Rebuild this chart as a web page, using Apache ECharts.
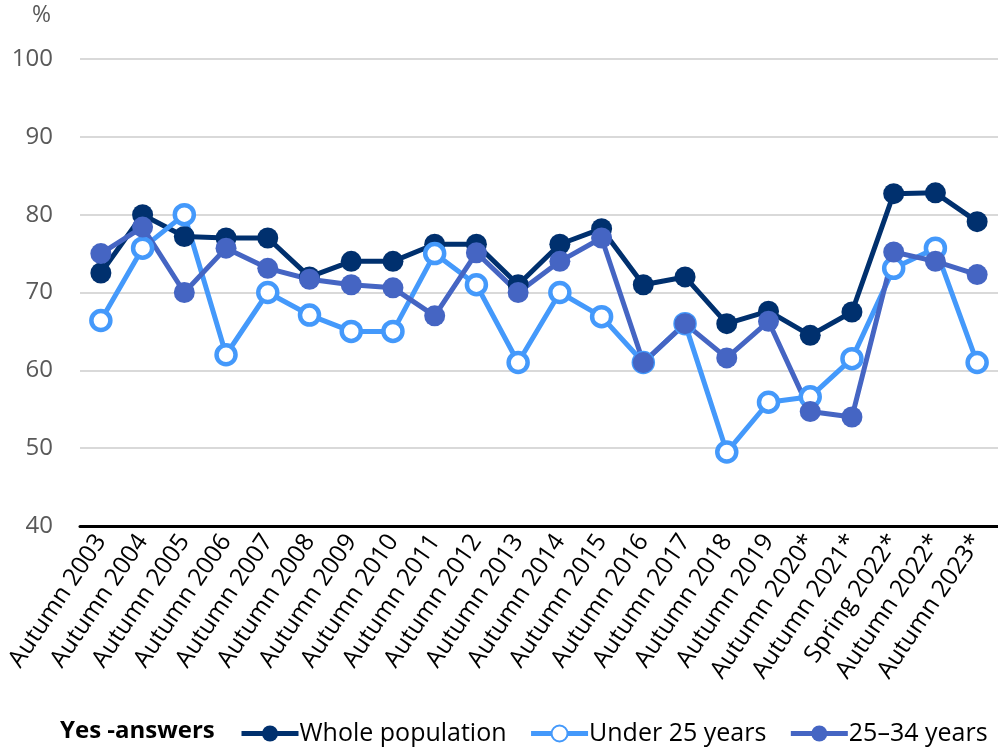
<!DOCTYPE html>
<html>
<head>
<meta charset="utf-8">
<script src="https://cdn.jsdelivr.net/npm/echarts@6/dist/echarts.min.js"></script>
<style>
    html, body { margin: 0; padding: 0; background: #fff; }
    #chart { width: 998px; height: 751px; }
</style>
</head>
<body>
<div id="chart"></div>
<script>
// categories on the x axis
const periods = ['Autumn 2003', 'Autumn 2004', 'Autumn 2005', 'Autumn 2006', 'Autumn 2007',
    'Autumn 2008', 'Autumn 2009', 'Autumn 2010', 'Autumn 2011', 'Autumn 2012', 'Autumn 2013',
    'Autumn 2014', 'Autumn 2015', 'Autumn 2016', 'Autumn 2017', 'Autumn 2018', 'Autumn 2019',
    'Autumn 2020*', 'Autumn 2021*', 'Spring 2022*', 'Autumn 2022*', 'Autumn 2023*'];

// yes-answers, %
const wholePopulation = [72.5, 80, 77.2, 77, 77, 72, 74, 74, 76.2, 76.2, 71, 76.2, 78.2, 71, 72,
    66, 67.6, 64.5, 67.5, 82.7, 82.8, 79.1];
const under25 = [66.4, 75.7, 80, 62, 70, 67.1, 65, 65, 75, 71, 61, 70, 66.9, 61, 66,
    49.5, 55.9, 56.6, 61.5, 73.1, 75.7, 61];
const age25to34 = [75, 78.4, 70, 75.7, 73.1, 71.7, 71, 70.6, 67, 75.1, 70, 74, 77, 61, 66,
    61.6, 66.3, 54.7, 54, 75.2, 74, 72.3];

const yTicks = [40, 50, 60, 70, 80, 90, 100];

const font = '"Open Sans", "Noto Sans", sans-serif';

let chart = echarts.init(document.getElementById('chart'));

let option = {
    backgroundColor: '#fff',
    textStyle: { fontFamily: font },
    graphic: [
        {
            type: 'text',
            left: 32,
            top: 4,
            style: { text: '%', fontSize: 23, fill: '#595959', fontFamily: font }
        },
        {
            type: 'text',
            left: 60,
            top: 719,
            style: { text: 'Yes -answers', fontSize: 24, fontWeight: 'bold', fill: '#000', fontFamily: font }
        }
    ],
    legend: {
        left: 234,
        top: 716,
        itemWidth: 57,
        itemHeight: 20,
        itemGap: 22,
        lineStyle: { width: 5 },
        textStyle: { fontSize: 25, color: '#000', fontFamily: font, padding: [0, 0, 0, -4] },
        data: ['Whole population', 'Under 25 years', '25–34 years']
    },
    grid: {
        left: 80,
        right: -7,   // last point sits close to the right edge
        top: 59,
        bottom: 225
    },
    xAxis: {
        type: 'category',
        data: periods,
        boundaryGap: true,
        axisLine: { lineStyle: { color: '#000', width: 3 } },
        axisTick: { show: false },
        axisLabel: {
            rotate: 56,
            interval: 0,
            margin: 11,
            fontSize: 24.5,
            color: '#000',
            fontFamily: font
        }
    },
    yAxis: {
        type: 'value',
        min: yTicks[0],
        max: yTicks[yTicks.length - 1],
        interval: 10,
        axisLine: { show: false },
        axisTick: { show: false },
        axisLabel: { margin: 27, fontSize: 24, color: '#595959', fontFamily: font },
        splitLine: { lineStyle: { color: '#d9d9d9', width: 2 } }
    },
    series: [
        {
            name: 'Whole population',
            type: 'line',
            data: wholePopulation,
            symbol: 'circle',
            symbolSize: 21,
            lineStyle: { color: '#00306e', width: 5 },
            itemStyle: { color: '#00306e' }
        },
        {
            name: 'Under 25 years',
            type: 'line',
            data: under25,
            symbol: 'circle',
            symbolSize: 19,
            lineStyle: { color: '#4499fb', width: 5 },
            itemStyle: { color: '#fff', borderColor: '#4499fb', borderWidth: 4.5 }
        },
        {
            name: '25–34 years',
            type: 'line',
            data: age25to34,
            symbol: 'circle',
            symbolSize: 21,
            lineStyle: { color: '#4565c3', width: 5 },
            itemStyle: { color: '#4565c3' }
        }
    ]
};

chart.setOption(option);
</script>
</body>
</html>
